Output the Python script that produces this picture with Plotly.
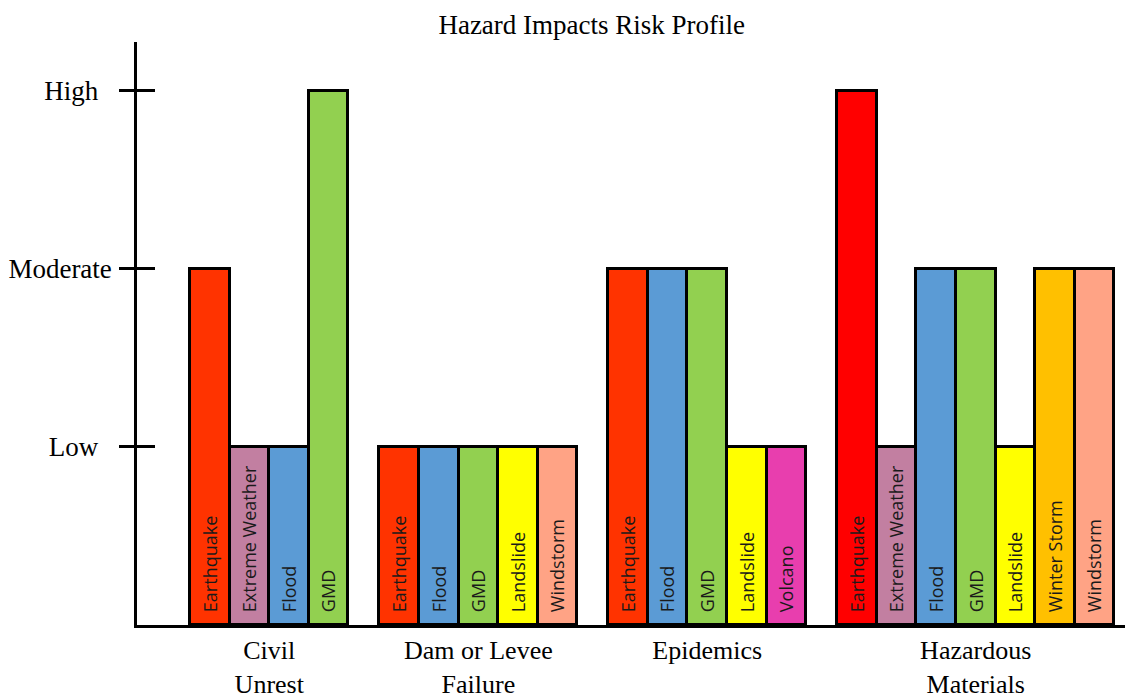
import plotly.graph_objects as go

# ---------------- data ----------------
groups = ["Civil<br>Unrest", "Dam or Levee<br>Failure", "Epidemics", "Hazardous<br>Materials"]

civil_hazards = ["Earthquake", "Extreme Weather", "Flood", "GMD"]
civil_levels = [2, 1, 1, 3]
civil_colors = ["#FF3300", "#C27FA1", "#5B9BD5", "#92D050"]

dam_hazards = ["Earthquake", "Flood", "GMD", "Landslide", "Windstorm"]
dam_levels = [1, 1, 1, 1, 1]
dam_colors = ["#FF3300", "#5B9BD5", "#92D050", "#FFFF00", "#FFA385"]

epi_hazards = ["Earthquake", "Flood", "GMD", "Landslide", "Volcano"]
epi_levels = [2, 2, 2, 1, 1]
epi_colors = ["#FF3300", "#5B9BD5", "#92D050", "#FFFF00", "#E83EAE"]

haz_hazards = ["Earthquake", "Extreme Weather", "Flood", "GMD", "Landslide", "Winter Storm", "Windstorm"]
haz_levels = [3, 1, 2, 2, 1, 2, 2]
haz_colors = ["#FF0000", "#C27FA1", "#5B9BD5", "#92D050", "#FFFF00", "#FFC000", "#FFA385"]

level_values = [1, 2, 3]
level_labels = ["Low\u00a0\u00a0", "Moderate", "High\u00a0\u00a0"]

# ---------------- layout of bars (computed) ----------------
group_hazards = [civil_hazards, dam_hazards, epi_hazards, haz_hazards]
group_levels = [civil_levels, dam_levels, epi_levels, haz_levels]
group_colors = [civil_colors, dam_colors, epi_colors, haz_colors]

BAR_W = 1.0
GAP = 0.78
START = 1.34

xs, ys, texts, cols, centers = [], [], [], [], []
pos = START
for hz, lv, cl in zip(group_hazards, group_levels, group_colors):
    g0 = pos
    for h, v, c in zip(hz, lv, cl):
        xs.append(pos + BAR_W / 2)
        ys.append(v)
        texts.append("\u00a0\u00a0" + h)
        cols.append(c)
        pos += BAR_W
    centers.append((g0 + pos) / 2)
    pos += GAP

SERIF = "Liberation Serif, Times New Roman, serif"
SANS = "Open Sans, Carlito, Liberation Sans, sans-serif"

fig = go.Figure()
fig.add_trace(go.Bar(
    x=xs, y=ys, width=BAR_W,
    marker=dict(color=cols, line=dict(color="black", width=3)),
    text=texts, textposition="inside", textangle=-90,
    insidetextanchor="start",
    textfont=dict(family=SANS, size=18, color="#1a1a1a"),
    hoverinfo="skip", showlegend=False,
))
fig.add_trace(go.Scatter(x=[None], y=[None], yaxis="y2", showlegend=False, hoverinfo="skip"))

YTOP = 3.275
fig.update_layout(
    template="none",
    width=1125, height=694,
    margin=dict(l=137, r=0, t=42, b=69, pad=0),
    paper_bgcolor="white", plot_bgcolor="white",
    title=dict(text="Hazard Impacts Risk Profile", x=0.526, xanchor="center",
               y=1 - 25 / 694, yanchor="middle", yref="container",
               font=dict(family=SERIF, size=27, color="black")),
    xaxis=dict(range=[0, 24.95], tickvals=centers, ticktext=groups,
               automargin=False,
               showgrid=False, zeroline=False, showline=True,
               linecolor="black", linewidth=2.5, ticks="",
               tickfont=dict(family=SERIF, size=26, color="black")),
    yaxis=dict(range=[0, YTOP], tickvals=level_values, ticktext=level_labels,
               automargin=False,
               showgrid=False, zeroline=False, showline=True,
               linecolor="black", linewidth=2.5, ticks="outside",
               ticklen=15, tickwidth=2.5, tickcolor="black",
               ticklabelstandoff=2,
               tickfont=dict(family=SERIF, size=27, color="black")),
    yaxis2=dict(range=[0, YTOP], overlaying="y", side="left",
                automargin=False,
                tickvals=level_values, ticktext=["", "", ""],
                showgrid=False, zeroline=False, showline=False,
                ticks="inside", ticklen=18, tickwidth=2.5, tickcolor="black",
                showticklabels=False),
    bargap=0,
)

fig.write_html("out.html", config={"displayModeBar": False},
               post_script="document.body.style.margin='0';")
